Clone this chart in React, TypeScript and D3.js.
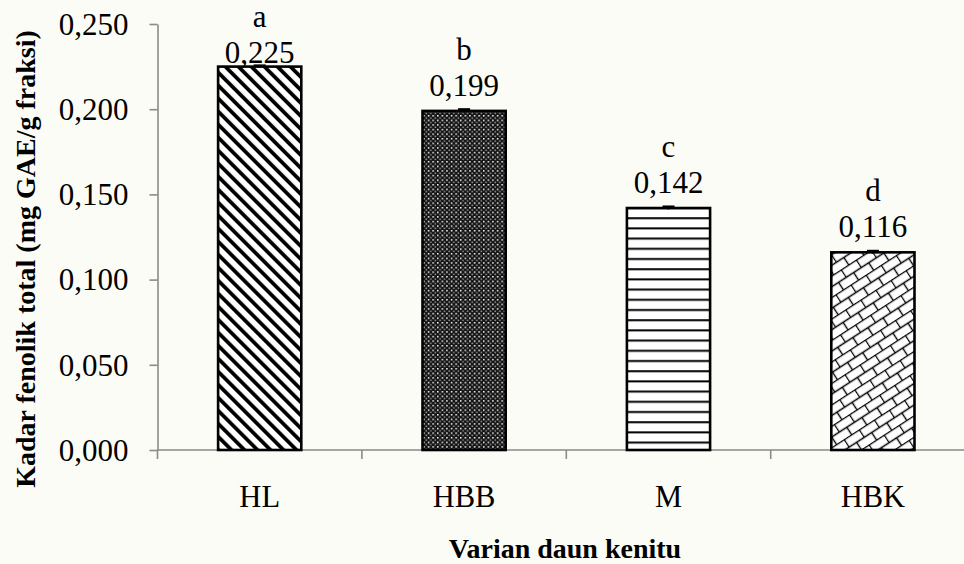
import React, { useEffect, useRef } from 'react';
import * as d3 from 'd3';

// data
const categories = ['HL', 'HBB', 'M', 'HBK'];
const values = [0.225, 0.199, 0.142, 0.116];
const errors = [0.0006, 0.0009, 0.0008, 0.0008];
const letters = ['a', 'b', 'c', 'd'];
const patterns = ['pHL', 'pHBB', 'pM', 'pHBK'];
const yTicks = [0, 0.05, 0.1, 0.15, 0.2, 0.25];

const W = 964;
const H = 564;
const FONT = '"Liberation Serif", "Times New Roman", Times, serif';

const App = () => {
  const chart = useRef<SVGSVGElement>(null);

  useEffect(() => {
    const svg = d3.select(chart.current);
    svg.selectAll('*').remove();

    const left = 157.5;
    const top = 24;
    const bottom = 450;
    const step = 204.4;

    const x = d3.scaleBand()
      .domain(categories)
      .range([left, left + step * categories.length])
      .paddingInner(0.593)
      .paddingOuter(0.2965);
    const y = d3.scaleLinear().domain([0, 0.25]).range([bottom, top]);

    svg.append('rect').attr('width', W).attr('height', H).attr('fill', '#fcfcf6');

    // fill patterns
    const defs = svg.append('defs');
    const p1 = defs.append('pattern').attr('id', 'pHL')
      .attr('patternUnits', 'userSpaceOnUse')
      .attr('width', 9.2).attr('height', 9.2)
      .attr('patternTransform', 'rotate(-45)');
    p1.append('rect').attr('width', 9.2).attr('height', 9.2).attr('fill', '#fff');
    p1.append('rect').attr('width', 3.8).attr('height', 9.2).attr('fill', '#000');

    const p2 = defs.append('pattern').attr('id', 'pHBB')
      .attr('patternUnits', 'userSpaceOnUse')
      .attr('width', 4.6).attr('height', 4.6);
    p2.append('rect').attr('width', 4.6).attr('height', 4.6).attr('fill', '#141414');
    p2.append('rect').attr('x', 0).attr('y', 0).attr('width', 1.5).attr('height', 1.5).attr('fill', '#fff');
    p2.append('rect').attr('x', 2.3).attr('y', 2.3).attr('width', 1.5).attr('height', 1.5).attr('fill', '#a0a0a0');

    const p3 = defs.append('pattern').attr('id', 'pM')
      .attr('patternUnits', 'userSpaceOnUse')
      .attr('width', 10).attr('height', 10.2);
    p3.append('rect').attr('width', 10).attr('height', 10.2).attr('fill', '#fff');
    p3.append('rect').attr('y', 3).attr('width', 10).attr('height', 2).attr('fill', '#000');

    const p4 = defs.append('pattern').attr('id', 'pHBK')
      .attr('patternUnits', 'userSpaceOnUse')
      .attr('width', 18).attr('height', 18)
      .attr('patternTransform', 'rotate(-33)');
    p4.append('rect').attr('width', 18).attr('height', 18).attr('fill', '#fff');
    p4.append('path')
      .attr('d', 'M0,0.5H18M0,9.5H18M0.5,0.5V9.5M9.5,9.5V18')
      .attr('stroke', '#000').attr('stroke-width', 1.4).attr('fill', 'none');

    // axes
    const axisColor = '#8a8a8a';
    const yAxis = svg.append('g')
      .attr('transform', `translate(${left},0)`)
      .call(d3.axisLeft(y).tickValues(yTicks).tickSize(8).tickSizeOuter(0)
        .tickFormat(d => d3.format('.3f')(d as number).replace('.', ',')));
    yAxis.select('.domain').attr('stroke', axisColor).attr('stroke-width', 1.6);
    yAxis.selectAll('line').attr('stroke', axisColor).attr('stroke-width', 1.6);
    yAxis.selectAll('text')
      .attr('font-family', FONT).attr('font-size', 31).attr('fill', '#000')
      .attr('x', -29).attr('dy', '0.33em');

    const xAxis = svg.append('g').attr('transform', `translate(0,${bottom})`);
    xAxis.append('line')
      .attr('x1', left).attr('x2', W)
      .attr('stroke', axisColor).attr('stroke-width', 1.6);
    xAxis.selectAll('line.tk')
      .data(d3.range(categories.length + 1))
      .join('line').attr('class', 'tk')
      .attr('x1', i => left + i * x.step()).attr('x2', i => left + i * x.step())
      .attr('y1', 0).attr('y2', 9)
      .attr('stroke', axisColor).attr('stroke-width', 1.6);
    xAxis.selectAll('text')
      .data(categories)
      .join('text')
      .attr('x', d => x(d)! + x.bandwidth() / 2)
      .attr('y', 57)
      .attr('text-anchor', 'middle')
      .attr('font-family', FONT).attr('font-size', 30.5)
      .text(d => d);

    // bars
    const bars = svg.append('g');
    bars.selectAll('rect')
      .data(values)
      .join('rect')
      .attr('x', (d, i) => x(categories[i])!)
      .attr('y', d => y(d))
      .attr('width', x.bandwidth())
      .attr('height', d => y(0) - y(d))
      .attr('fill', (d, i) => `url(#${patterns[i]})`)
      .attr('stroke', '#000')
      .attr('stroke-width', 2.6);

    // error bars
    const err = svg.append('g').attr('stroke', '#000').attr('stroke-width', 2.4);
    values.forEach((v, i) => {
      const cx = x(categories[i])! + x.bandwidth() / 2;
      err.append('line').attr('x1', cx).attr('x2', cx).attr('y1', y(v + errors[i])).attr('y2', y(v - errors[i]));
      err.append('line').attr('x1', cx - 6).attr('x2', cx + 6).attr('y1', y(v + errors[i])).attr('y2', y(v + errors[i]));
    });

    // value labels and letters
    const labels = svg.append('g')
      .attr('font-family', FONT).attr('font-size', 31).attr('text-anchor', 'middle');
    values.forEach((v, i) => {
      const cx = x(categories[i])! + x.bandwidth() / 2;
      const base = Math.max(y(v) - 15, top + 39);
      labels.append('text').attr('x', cx).attr('y', base).text(d3.format('.3f')(v).replace('.', ','));
      labels.append('text').attr('x', cx).attr('y', base - 36).text(letters[i]);
    });

    // axis titles
    svg.append('text')
      .attr('transform', `translate(35,259) rotate(-90)`)
      .attr('text-anchor', 'middle')
      .attr('font-family', FONT).attr('font-size', 28).attr('font-weight', 'bold')
      .text('Kadar fenolik total (mg GAE/g fraksi)');
    svg.append('text')
      .attr('x', 565).attr('y', 558)
      .attr('text-anchor', 'middle')
      .attr('font-family', FONT).attr('font-size', 28).attr('font-weight', 'bold')
      .text('Varian daun kenitu');
  }, []);

  return (
    <div style={{ position: 'fixed', left: 0, top: 0, width: W, height: H, overflow: 'hidden' }}>
      <svg ref={chart} width={W} height={H}></svg>
    </div>
  );
};

export default App;
